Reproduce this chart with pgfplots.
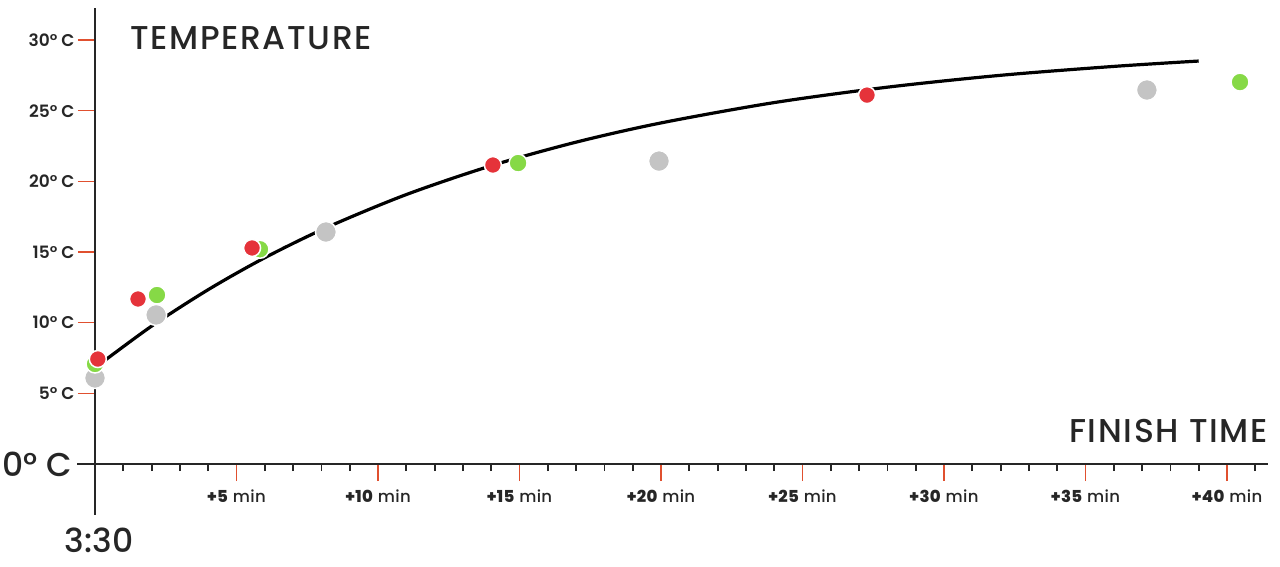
\documentclass[border=0pt]{standalone}
\usepackage{pgfplots}
\pgfplotsset{compat=1.18}
\usepackage{fontspec}
\setmainfont{Poppins}[BoldFont={Poppins SemiBold}]
\newfontfamily\titlefont{Poppins Medium}[LetterSpace=5]
\newfontfamily\medfont{Poppins Medium}
\newfontfamily\labelfont{Poppins Medium}[LetterSpace=2]

\definecolor{txt}{HTML}{262626}
\definecolor{tickred}{HTML}{E0502F}
\definecolor{dotgray}{HTML}{C4C4C4}
\definecolor{dotgreen}{HTML}{86D946}
\definecolor{dotred}{HTML}{E5333A}

\begin{document}
\begin{tikzpicture}
\begin{axis}[
    x=28.3pt, y=14.13pt,
    xmin=-0.636, xmax=41.45,
    ymin=-3.6, ymax=32.27,
    axis lines=middle,
    axis line style={-, draw=txt, line width=2pt},
    clip=false,
    tick align=outside,
    major tick length=17pt,
    minor tick length=7pt,
    xtick={5,10,...,40},
    xticklabels={\textbf{+5} min,\textbf{+10} min,\textbf{+15} min,\textbf{+20} min,\textbf{+25} min,\textbf{+30} min,\textbf{+35} min,\textbf{+40} min},
    minor xtick={1,2,3,4,6,7,8,9,11,12,13,14,16,17,18,19,21,22,23,24,26,27,28,29,31,32,33,34,36,37,38,39,41},
    ytick={5,10,...,30},
    yticklabels={5° C,10° C,15° C,20° C,25° C,30° C},
    xtick style={draw=tickred, line width=1.4pt},
    ytick style={draw=tickred, line width=1.4pt},
    minor x tick style={draw=txt, line width=1.8pt},
    xticklabel style={font=\labelfont\fontsize{16.5}{18}\selectfont, text=txt, yshift=-5pt},
    yticklabel style={font=\fontsize{17}{18}\selectfont\bfseries, text=txt},
]
    % fitted curve
    \addplot[black, line width=3.2pt, smooth] coordinates {
        (0.1,6.96) (2,9.76) (4,12.34) (6,14.60) (8.2,16.75) (11,19.07)
        (14,21.11) (17,22.78) (20,24.14) (24,25.58) (28,26.67) (32,27.51)
        (36,28.14) (39,28.52)
    };
    \addplot[only marks, mark=*, mark size=10.5pt,
        mark options={fill=dotgray, draw=white, line width=1.5pt}] coordinates {
        (0.0,6.09) (2.16,10.55) (8.16,16.42) (19.93,21.44) (37.17,26.47)
    };
    \addplot[only marks, mark=*, mark size=9pt,
        mark options={fill=dotgreen, draw=white, line width=1.5pt}] coordinates {
        (0.0,7.08) (2.19,11.96) (5.83,15.2) (14.95,21.3) (40.46,27.03)
    };
    \addplot[only marks, mark=*, mark size=8.5pt,
        mark options={fill=dotred, draw=white, line width=1.5pt}] coordinates {
        (0.1,7.43) (1.52,11.68) (5.55,15.29) (14.06,21.16) (27.28,26.11)
    };

    \node[anchor=west, text=txt, font=\titlefont\fontsize{33}{36}\selectfont, inner sep=0pt] at (axis cs:1.237,30.11) {TEMPERATURE};
    \node[anchor=east, text=txt, font=\titlefont\fontsize{33}{36}\selectfont, inner sep=0pt] at (axis cs:41.45,2.34) {FINISH TIME};
    \node[anchor=east, text=txt, font=\medfont\fontsize{33}{36}\selectfont, inner sep=0pt] at (axis cs:-0.8,0) {0° C};
    \node[text=txt, font=\medfont\fontsize{33}{36}\selectfont, inner sep=0pt] at (axis cs:0.14,-5.38) {3:30};

    \path (axis cs:-3.357,32.84) rectangle (axis cs:41.873,-7.219);
\end{axis}
\end{tikzpicture}
\end{document}
